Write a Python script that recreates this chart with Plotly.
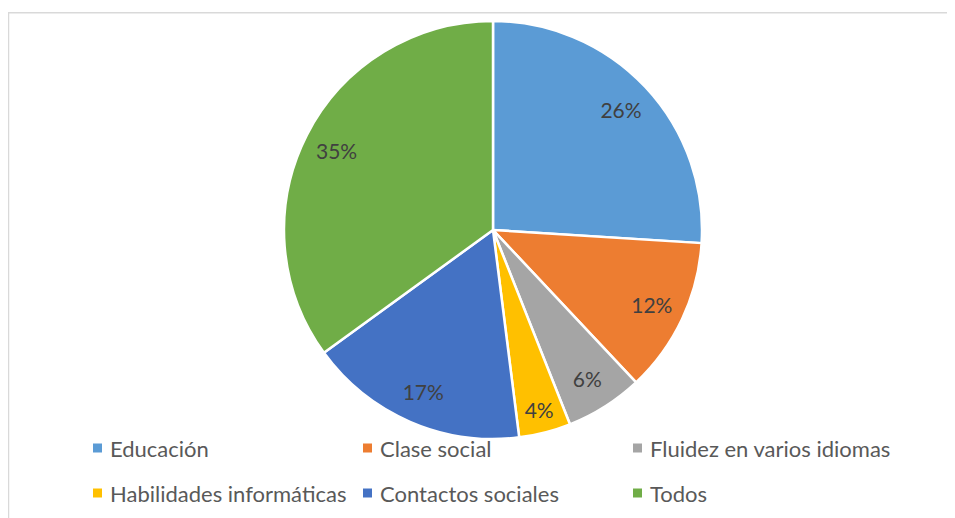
import plotly.graph_objects as go

labels = ["Educación", "Clase social", "Fluidez en varios idiomas",
          "Habilidades informáticas", "Contactos sociales", "Todos"]
values = [26, 12, 6, 4, 17, 35]
colors = ["#5B9BD5", "#ED7D31", "#A5A5A5", "#FFC000", "#4472C4", "#70AD47"]

# the page has an 8px body margin, so the figure is made 8px smaller
OFF = 8
W, H = 955 - OFF, 518 - OFF
FONT = "Lato"


def px(x):
    return (x - OFF) / W


def py(y):
    return 1 - (y - OFF) / H


pie_domain = dict(x=[px(284), px(702)], y=[py(439), py(21)])

fig = go.Figure()
# the coloured pie
fig.add_trace(go.Pie(
    labels=labels, values=values, sort=False,
    direction="clockwise", rotation=0,
    marker=dict(colors=colors, line=dict(color="white", width=2.5)),
    textinfo="none",
    domain=pie_domain,
    hoverinfo="label+percent",
))
# transparent ring on top only to put the percentages out near the rim
fig.add_trace(go.Pie(
    labels=labels, values=values, sort=False,
    direction="clockwise", rotation=0, hole=0.68,
    marker=dict(colors=["rgba(0,0,0,0)"] * len(values), line=dict(width=0)),
    texttemplate="%{percent:.0%}",
    textposition="inside",
    insidetextorientation="horizontal",
    textfont=dict(family=FONT, size=21, color="#404040"),
    domain=pie_domain,
    hoverinfo="skip",
))

# legend drawn by hand: 3 columns x 2 rows like the original
shapes = [dict(type="rect", xref="paper", yref="paper",
               x0=px(8.5), x1=px(970), y0=py(12.75), y1=py(540),
               line=dict(color="#d9d9d9", width=1.5), fillcolor="rgba(0,0,0,0)")]
annotations = []
col_x = [93, 363, 633]
row_y = [448, 493]
for i, (lab, col) in enumerate(zip(labels, colors)):
    x0 = col_x[i % 3]
    yc = row_y[i // 3]
    shapes.append(dict(type="rect", xref="paper", yref="paper",
                       x0=px(x0), x1=px(x0 + 9), y0=py(yc + 4.5), y1=py(yc - 4.5),
                       fillcolor=col, line=dict(width=0)))
    annotations.append(dict(text=lab, xref="paper", yref="paper",
                            x=px(x0 + 15), y=py(yc), xanchor="left", yanchor="middle",
                            showarrow=False,
                            font=dict(family=FONT, size=22, color="#595959")))

fig.update_layout(
    width=W, height=H,
    margin=dict(l=0, r=0, t=0, b=0),
    paper_bgcolor="white",
    showlegend=False,
    uniformtext=dict(minsize=21, mode="show"),
    shapes=shapes,
    annotations=annotations,
)

fig.write_html("out.html")
